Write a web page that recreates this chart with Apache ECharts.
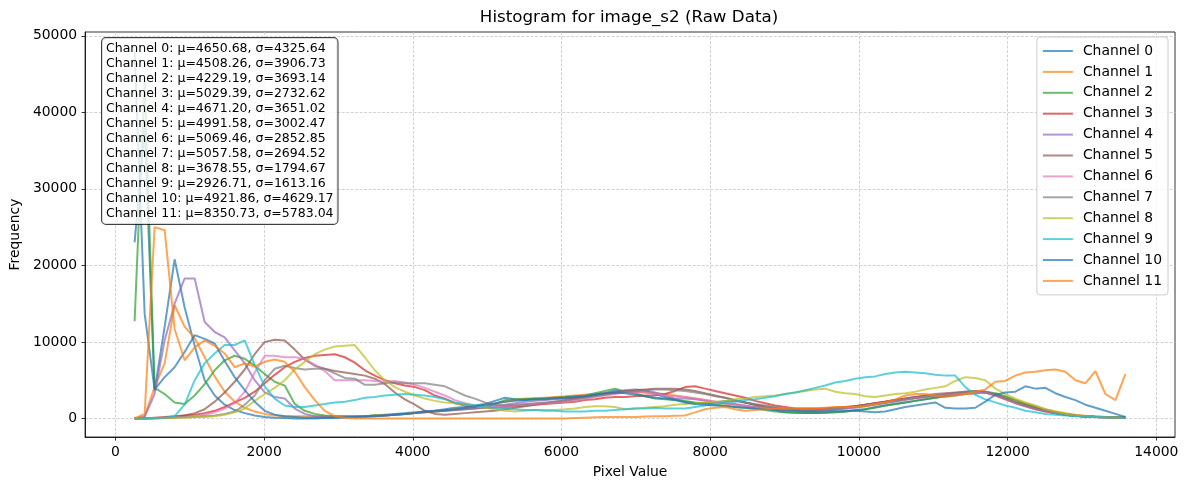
<!DOCTYPE html>
<html>
<head>
<meta charset="utf-8">
<title>Histogram for image_s2 (Raw Data)</title>
<script src="https://cdn.jsdelivr.net/npm/echarts@6/dist/echarts.min.js"></script>
<style>
  html, body { margin: 0; padding: 0; background: #fff; }
  #main { width: 1187px; height: 490px; }
</style>
</head>
<body>
<div id="main"></div>
<script>
// bin centres (pixel value)
const pixelValues = [
    259, 394, 528, 663, 797, 932, 1067, 1201, 1336, 1470,
    1605, 1740, 1874, 2009, 2143, 2278, 2413, 2547, 2682, 2816,
    2951, 3086, 3220, 3355, 3489, 3624, 3759, 3893, 4028, 4162,
    4297, 4432, 4566, 4701, 4835, 4970, 5105, 5239, 5374, 5508,
    5643, 5778, 5912, 6047, 6181, 6316, 6451, 6585, 6720, 6854,
    6989, 7124, 7258, 7393, 7527, 7662, 7797, 7931, 8066, 8200,
    8335, 8470, 8604, 8739, 8873, 9008, 9143, 9277, 9412, 9546,
    9681, 9816, 9950, 10085, 10219, 10354, 10489, 10623, 10758, 10892,
    11027, 11162, 11296, 11431, 11565, 11700, 11835, 11969, 12104, 12238,
    12373, 12508, 12642, 12777, 12911, 13046, 13181, 13315, 13450, 13584
]

const channel0 = [
    23000, 38000, 3600, 12000, 20800, 14500, 9500, 5000, 3000, 1800,
    1100, 700, 400, 200, 100, 50, 0, 0, 0, 50,
    100, 150, 200, 300, 400, 500, 600, 700, 800, 900,
    1000, 1200, 1400, 1500, 1700, 1900, 2300, 2700, 2500, 2400,
    2500, 2600, 2700, 2700, 2700, 2800, 3100, 3300, 3700, 3500,
    3500, 3600, 3200, 2800, 2500, 2200, 2000, 2000, 2100, 2300,
    2300, 2100, 1800, 1400, 1100, 800, 700, 700, 700, 800,
    800, 900, 1100, 1200, 1500, 1700, 1900, 2100, 2300, 2500,
    2700, 2900, 3000, 3200, 3300, 3400, 3100, 2600, 2100, 1700,
    1300, 1000, 700, 500, 350, 250, 200, 150, 120, 100
]
const channel1 = [
    0, 300, 4100, 7200, 14800, 12000, 10500, 8000, 5500, 3500,
    2200, 1400, 900, 600, 400, 300, 300, 300, 300, 300,
    300, 300, 300, 300, 400, 400, 500, 600, 700, 800,
    900, 1000, 1200, 1300, 1500, 1700, 1900, 2200, 2400, 2600,
    2600, 2700, 2800, 2900, 3000, 3100, 3200, 3300, 3400, 3500,
    3500, 3400, 3300, 3200, 3000, 2800, 2600, 2400, 2200, 2000,
    1800, 1600, 1500, 1400, 1300, 1200, 1200, 1200, 1200, 1300,
    1400, 1500, 1600, 1800, 2000, 2200, 2400, 2500, 2700, 2800,
    2900, 3000, 3100, 3200, 3300, 3400, 3200, 2800, 2400, 2000,
    1600, 1200, 900, 700, 500, 350, 250, 200, 150, 100
]
const channel2 = [
    12700, 44000, 4000, 3200, 2100, 1900, 3000, 4500, 6300, 7600,
    8200, 7800, 6900, 5800, 4800, 4300, 1900, 1000, 600, 400,
    300, 300, 300, 300, 400, 400, 500, 600, 700, 800,
    900, 1000, 1100, 1200, 1300, 1500, 1900, 2400, 2500, 2500,
    2600, 2600, 2700, 2800, 2900, 3000, 3300, 3600, 3900, 3500,
    3300, 2900, 2600, 2500, 2400, 2300, 2100, 2000, 1800, 1700,
    1500, 1400, 1300, 1100, 900, 800, 800, 700, 700, 700,
    800, 900, 1000, 1200, 1400, 1700, 1900, 2100, 2300, 2500,
    2700, 2900, 3100, 3300, 3400, 3500, 3300, 2900, 2400, 1900,
    1500, 1100, 800, 600, 400, 300, 250, 200, 150, 100
]
const channel3 = [
    0, 0, 100, 200, 300, 400, 500, 700, 1000, 1500,
    2100, 2700, 3500, 4600, 5700, 6700, 7400, 7900, 8200, 8300,
    8400, 8000, 7300, 6300, 5600, 5000, 4600, 4300, 4100, 3700,
    3000, 2600, 2000, 1700, 1500, 1400, 1400, 1500, 1600, 1700,
    1800, 1900, 2000, 2100, 2200, 2400, 2500, 2700, 2800, 2800,
    2900, 3000, 3000, 3200, 3600, 4100, 4200, 3900, 3600, 3300,
    3000, 2700, 2300, 2000, 1700, 1500, 1300, 1300, 1300, 1300,
    1400, 1500, 1600, 1800, 2000, 2200, 2400, 2600, 2800, 2900,
    3000, 3100, 3300, 3400, 3500, 3400, 3000, 2500, 2000, 1600,
    1200, 900, 700, 500, 350, 250, 200, 150, 120, 100
]
const channel4 = [
    0, 200, 3200, 10200, 15000, 18300, 18300, 12600, 11300, 10600,
    8900, 7200, 5000, 3400, 2800, 2600, 1300, 600, 300, 200,
    150, 150, 200, 200, 300, 400, 500, 600, 700, 800,
    900, 1000, 1100, 1200, 1300, 1400, 1600, 1800, 2000, 2200,
    2300, 2400, 2500, 2600, 2700, 2900, 3100, 3300, 3500, 3700,
    3800, 3700, 3400, 3000, 2600, 2600, 2500, 2300, 2100, 2000,
    1900, 1700, 1500, 1300, 1200, 1100, 1000, 1000, 1000, 1100,
    1200, 1300, 1400, 1600, 1800, 2000, 2200, 2400, 2600, 2800,
    2900, 3000, 3200, 3300, 3400, 3500, 3100, 2600, 2100, 1700,
    1300, 1000, 700, 500, 350, 250, 200, 150, 120, 100
]
const channel5 = [
    0, 0, 50, 100, 200, 400, 700, 1200, 2200, 3400,
    4800, 6400, 8400, 10000, 10300, 10200, 9000, 7700, 6900, 6500,
    6200, 6000, 5800, 5600, 5200, 4500, 3400, 2500, 1800, 1000,
    600, 500, 600, 700, 800, 900, 1000, 1200, 1400, 1600,
    1800, 2000, 2200, 2400, 2600, 2800, 3000, 3200, 3400, 3600,
    3700, 3800, 3900, 3900, 3900, 3800, 3600, 3300, 3000, 2700,
    2400, 2100, 1800, 1600, 1400, 1200, 1100, 1000, 1000, 1100,
    1200, 1400, 1600, 1800, 2000, 2200, 2400, 2600, 2800, 3000,
    3200, 3300, 3400, 3500, 3600, 3500, 3100, 2600, 2100, 1700,
    1300, 1000, 700, 500, 350, 250, 200, 150, 120, 100
]
const channel6 = [
    0, 0, 50, 100, 150, 200, 300, 500, 800, 1300,
    2000, 3500, 6000, 8200, 8200, 8000, 8000, 7800, 7000, 6200,
    5000, 5000, 5000, 5000, 4900, 4800, 4900, 4700, 4400, 4000,
    3500, 3000, 2400, 2000, 1700, 1500, 1500, 1600, 1700, 1800,
    1900, 2000, 2100, 2200, 2400, 2600, 2800, 3000, 3200, 3400,
    3500, 3400, 3200, 3000, 2900, 2800, 2600, 2400, 2200, 2000,
    1800, 1600, 1400, 1300, 1200, 1100, 1100, 1000, 1000, 1100,
    1200, 1300, 1500, 1700, 1900, 2100, 2300, 2500, 2700, 2800,
    3000, 3100, 3200, 3300, 3400, 3400, 3000, 2500, 2000, 1600,
    1200, 900, 700, 500, 350, 250, 200, 150, 120, 100
]
const channel7 = [
    0, 0, 0, 50, 100, 150, 200, 300, 400, 600,
    900, 1800, 3000, 5000, 6500, 6900, 6600, 6400, 6500, 6500,
    5900, 5300, 5200, 4400, 4400, 4600, 4700, 4600, 4600, 4600,
    4400, 4200, 3600, 3000, 2600, 2100, 1800, 1700, 1800, 1900,
    2000, 2100, 2200, 2300, 2500, 2700, 2900, 3100, 3300, 3500,
    3600, 3700, 3800, 3800, 3700, 3600, 3400, 3200, 2900, 2700,
    2400, 2100, 1900, 1700, 1500, 1300, 1200, 1100, 1100, 1200,
    1300, 1400, 1500, 1700, 1900, 2100, 2300, 2500, 2700, 2900,
    3000, 3200, 3300, 3500, 3600, 3500, 3100, 2600, 2100, 1700,
    1300, 1000, 700, 500, 350, 250, 200, 150, 120, 100
]
const channel8 = [
    0, 0, 0, 50, 100, 100, 200, 200, 300, 500,
    800, 1300, 2300, 3200, 4000, 5000, 6400, 7400, 8400, 9000,
    9400, 9500, 9600, 8000, 6300, 5000, 4100, 3500, 3000, 2600,
    2300, 2100, 2000, 1800, 1600, 1400, 1200, 1000, 900, 1000,
    1100, 1100, 1100, 1200, 1300, 1500, 1600, 1600, 1500, 1200,
    1300, 1400, 1500, 1600, 1800, 1900, 2000, 2100, 2200, 2300,
    2500, 2600, 2800, 2900, 3000, 3200, 3400, 3600, 3800, 3900,
    3500, 3300, 3200, 2900, 2800, 3000, 3200, 3300, 3500, 3800,
    4000, 4200, 4900, 5400, 5300, 5000, 3900, 3200, 2600, 2100,
    1700, 1200, 900, 600, 400, 300, 200, 150, 120, 100
]
const channel9 = [
    0, 0, 50, 100, 300, 1800, 5000, 7200, 8500, 9600,
    9600, 10200, 7000, 4200, 2600, 1700, 1500, 1500, 1700, 1900,
    2100, 2200, 2400, 2700, 2800, 3000, 3100, 3200, 3100, 3000,
    2800, 2500, 2100, 1900, 1700, 1500, 1400, 1300, 1200, 1100,
    1100, 1000, 1000, 900, 900, 900, 1000, 1000, 1100, 1200,
    1300, 1300, 1400, 1300, 1300, 1300, 1500, 1700, 1900, 2100,
    2200, 2400, 2500, 2700, 2900, 3200, 3400, 3700, 4000, 4300,
    4700, 4900, 5200, 5400, 5500, 5800, 6000, 6100, 6000, 5900,
    5700, 5600, 5600, 4100, 3100, 2500, 2100, 1700, 1400, 1000,
    800, 600, 500, 400, 300, 250, 200, 150, 120, 100
]
const channel10 = [
    48000, 13700, 3800, 5400, 6700, 8700, 10900, 10400, 9800, 7500,
    5400, 3700, 2200, 1000, 500, 300, 200, 100, 100, 100,
    100, 150, 200, 250, 300, 400, 500, 600, 700, 900,
    1000, 1100, 1200, 1400, 1600, 1800, 2000, 2200, 2300, 2400,
    2500, 2500, 2600, 2700, 2800, 2900, 3100, 3300, 3400, 3300,
    3100, 2900, 2700, 2600, 2400, 2100, 1900, 1800, 1700, 1600,
    1500, 1400, 1300, 1200, 1100, 1000, 1000, 900, 900, 900,
    1000, 1000, 1000, 900, 800, 900, 1200, 1500, 1700, 1900,
    2100, 1400, 1300, 1300, 1400, 2200, 3100, 3400, 3500, 4200,
    3900, 4000, 3300, 2800, 2400, 1800, 1400, 1000, 600, 200
]
const channel11 = [
    0, 600, 25000, 24600, 11700, 7600, 9300, 10200, 9500, 8500,
    6700, 7200, 6800, 7400, 7700, 7400, 6100, 4100, 2400, 1000,
    300, 100, 0, 0, 0, 0, 0, 0, 0, 0,
    0, 0, 0, 0, 0, 0, 0, 0, 0, 0,
    0, 0, 0, 0, 50, 100, 150, 200, 200, 200,
    200, 250, 300, 300, 350, 400, 800, 1200, 1400, 1500,
    1200, 1000, 1100, 1200, 1300, 1300, 1300, 1300, 1300, 1400,
    1500, 1500, 1500, 1600, 1900, 2100, 2500, 3000, 3200, 3200,
    3000, 2800, 3000, 3200, 3500, 3800, 4800, 4900, 5600, 6000,
    6100, 6300, 6400, 6100, 5000, 4600, 6200, 3200, 2400, 5800
]

const channelCounts = [channel0, channel1, channel2, channel3, channel4, channel5,
    channel6, channel7, channel8, channel9, channel10, channel11]
const channelNames = ['Channel 0', 'Channel 1', 'Channel 2', 'Channel 3', 'Channel 4', 'Channel 5',
    'Channel 6', 'Channel 7', 'Channel 8', 'Channel 9', 'Channel 10', 'Channel 11']
const channelMeans = ['4650.68', '4508.26', '4229.19', '5029.39', '4671.20', '4991.58',
    '5069.46', '5057.58', '3678.55', '2926.71', '4921.86', '8350.73']
const channelStds = ['4325.64', '3906.73', '3693.14', '2732.62', '3651.02', '3002.47',
    '2852.85', '2694.52', '1794.67', '1613.16', '4629.17', '5783.04']

const xTicks = [0, 2000, 4000, 6000, 8000, 10000, 12000, 14000]
const yTicks = [0, 10000, 20000, 30000, 40000, 50000]

const colors = ['#1f77b4', '#ff7f0e', '#2ca02c', '#d62728', '#9467bd', '#8c564b',
    '#e377c2', '#7f7f7f', '#bcbd22', '#17becf', '#1f77b4', '#ff7f0e']

const font = 'DejaVu Sans'

function buildSeries() {
    return channelNames.map(function (name, c) {
        return {
            name: name,
            type: 'line',
            symbol: 'none',
            data: pixelValues.map(function (x, i) {
                return [x, channelCounts[c][i]]
            }),
            lineStyle: { width: 2, color: colors[c], opacity: 0.7 },
            itemStyle: { color: colors[c], opacity: 0.7 },
            emphasis: { disabled: true }
        }
    })
}

function statsText() {
    return channelNames.map(function (name, c) {
        return name + ': μ=' + channelMeans[c] + ', σ=' + channelStds[c]
    }).join('\n')
}

// plain numbers, no thousands separator
function plainLabel(v) {
    return String(v)
}

const gridLine = { show: true, lineStyle: { color: '#c8c8c8', width: 0.8, type: [3, 1.5] } }

const chart = echarts.init(document.getElementById('main'), null, { renderer: 'canvas' })
const option = {
    animation: false,
    backgroundColor: '#fff',
    textStyle: { fontFamily: font },
    grid: {
        left: 83, right: 12, top: 32, bottom: 53,
        show: true, borderColor: '#000', borderWidth: 0.8
    },
    xAxis: {
        type: 'value',
        min: -407,
        max: 14251,
        name: 'Pixel Value',
        nameLocation: 'middle',
        nameGap: 28,
        nameTextStyle: { color: '#000', fontSize: 13.9, fontFamily: font },
        axisLine: { show: true, onZero: false, lineStyle: { color: '#000', width: 0.8 } },
        axisTick: { show: true, length: 3.5, customValues: xTicks, lineStyle: { color: '#000', width: 0.8 } },
        axisLabel: { customValues: xTicks, formatter: plainLabel, color: '#000', fontSize: 13.9, fontFamily: font, margin: 8 },
        splitLine: gridLine
    },
    yAxis: {
        type: 'value',
        min: -2420,
        max: 50500,
        name: 'Frequency',
        nameLocation: 'middle',
        nameGap: 54,
        nameTextStyle: { color: '#000', fontSize: 13.9, fontFamily: font },
        axisLine: { show: true, onZero: false, lineStyle: { color: '#000', width: 0.8 } },
        axisTick: { show: true, length: 3.5, customValues: yTicks, lineStyle: { color: '#000', width: 0.8 } },
        axisLabel: { customValues: yTicks, formatter: plainLabel, color: '#000', fontSize: 13.9, fontFamily: font, margin: 8 },
        splitLine: gridLine
    },
    legend: {
        orient: 'vertical',
        right: 19,
        top: 37,
        padding: [7, 6, 7, 5],
        itemWidth: 30,
        itemHeight: 14,
        itemGap: 6.9,
        selectedMode: false,
        backgroundColor: 'rgba(255,255,255,0.8)',
        borderColor: '#cccccc',
        borderWidth: 1,
        borderRadius: 3,
        // hide the marker circle, keep only the line
        itemStyle: { color: 'rgba(0,0,0,0)', borderWidth: 0, borderColor: 'rgba(0,0,0,0)' },
        lineStyle: { width: 2 },
        textStyle: { color: '#000', fontSize: 13.9, fontFamily: font, padding: [0, 0, 0, 5] },
        data: channelNames
    },
    graphic: [
        {
            type: 'text',
            x: 629,
            y: 18,
            z: 100,
            style: {
                text: 'Histogram for image_s2 (Raw Data)',
                font: '16.7px "DejaVu Sans"',
                fill: '#000',
                align: 'center',
                verticalAlign: 'middle'
            }
        },
        {
            type: 'text',
            left: 101,
            top: 37,
            z: 100,
            style: {
                text: statsText(),
                font: '12.5px "DejaVu Sans"',
                lineHeight: 15,
                fill: '#000',
                backgroundColor: 'rgba(255,255,255,0.8)',
                borderColor: 'rgba(0,0,0,0.75)',
                borderWidth: 1,
                borderRadius: 4,
                padding: [3, 4, 3, 4]
            }
        }
    ],
    series: buildSeries()
}
chart.setOption(option)
window.addEventListener('resize', chart.resize)
</script>
</body>
</html>
